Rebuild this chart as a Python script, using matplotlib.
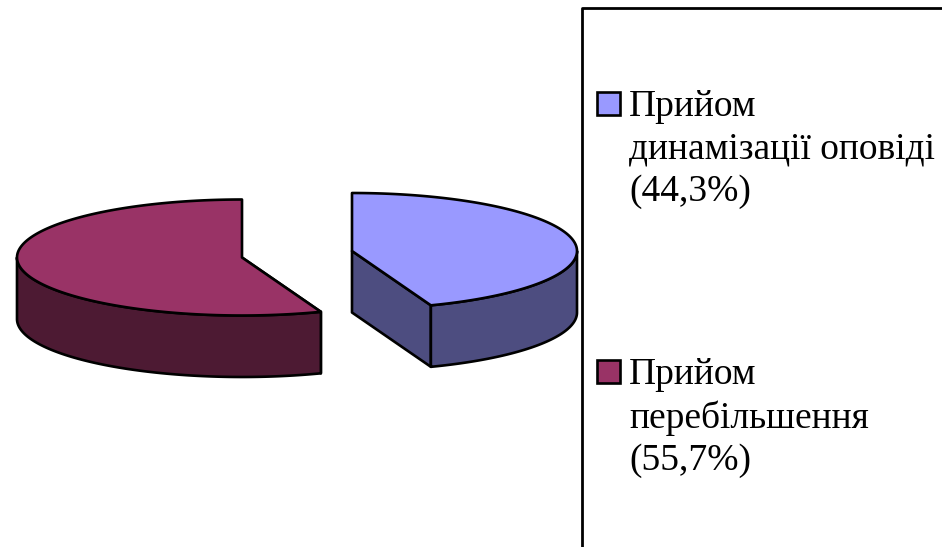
import numpy as np
import matplotlib
matplotlib.use("Agg")
import matplotlib.pyplot as plt
from matplotlib.patches import Polygon, Rectangle

categories = ["Прийом\nдинамізації оповіді\n(44,3%)", "Прийом\nперебільшення\n(55,7%)"]
shares = [44.3, 55.7]
top_colors = ["#9999FF", "#993366"]
side_colors = ["#4D4D80", "#4D1A33"]
centers = [(352, 251), (242, 257.5)]
radius_x, radius_y, depth = 225, 58, 61.5

fig = plt.figure(figsize=(9.42, 5.47), dpi=100, facecolor="white")
ax = fig.add_axes([0, 0, 1, 1])
ax.set_xlim(0, 942)
ax.set_ylim(547, 0)
ax.axis("off")


def rim(cx, cy, a0, a1, n=240):
    # Angles run clockwise from twelve o'clock, flattened onto the ellipse.
    t = np.linspace(a0, a1, n)
    return np.column_stack([cx + radius_x * np.sin(t), cy - radius_y * np.cos(t)])


def draw_slice(center, a0, a1, top, side):
    cx, cy = center
    edge = dict(edgecolor="black", linewidth=1.9, joinstyle="round")
    drop = np.array([0, depth])
    # Cut faces seen from the front
    for ang in (a0, a1):
        p = rim(cx, cy, ang, ang, 1)[0]
        if np.cos(ang) < 0:
            quad = [(cx, cy), p, p + drop, (cx, cy + depth)]
            ax.add_patch(Polygon(quad, facecolor=side, **edge))
    # Outer wall: only the part of the rim on the near half
    lo, hi = max(a0, np.pi / 2), min(a1, 3 * np.pi / 2)
    if hi > lo:
        r = rim(cx, cy, lo, hi)
        ax.add_patch(Polygon(np.vstack([r, r[::-1] + drop]), facecolor=side, **edge))
    # Top face
    ax.add_patch(Polygon(np.vstack([[cx, cy], rim(cx, cy, a0, a1)]), facecolor=top, **edge))


edges = 2 * np.pi * np.cumsum([0] + shares) / sum(shares)
for i in range(len(shares)):
    draw_slice(centers[i], edges[i], edges[i + 1], top_colors[i], side_colors[i])

# Legend frame runs past the right and bottom borders
ax.plot([943, 582, 582], [8, 8, 548], color="black", lw=2.0, clip_on=False)

for (label, color, y) in zip(categories, top_colors, (92, 360)):
    ax.add_patch(Rectangle((597, y), 23, 23, facecolor=color, edgecolor="black", lw=1.9))
    ax.text(629, y - 3, label, fontsize=27.0, va="top", ha="left", color="black",
            family="Liberation Serif", linespacing=1.31)

fig.savefig("out.png", dpi=100)
